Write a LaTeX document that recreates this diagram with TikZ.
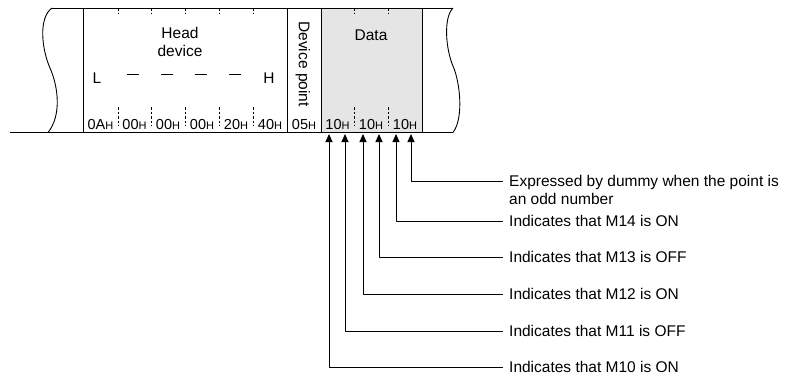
\documentclass[tikz,border=0pt]{standalone}
\usepackage{fontspec}
\setmainfont{Liberation Sans}
\usetikzlibrary{arrows.meta}
\newcommand{\hexval}[1]{#1{\fontsize{11}{11}\selectfont H}}
\begin{document}
\begin{tikzpicture}[x=1pt,y=-1pt,line join=round,
  font=\fontsize{15.5}{18}\selectfont,
  frame/.style={line width=0.9pt},
  tick/.style={line width=0.6pt,dash pattern=on 2.5pt off 2pt},
  val/.style={font=\fontsize{14.5}{15}\selectfont,inner sep=0pt},
  note/.style={anchor=west,inner xsep=6pt,inner ysep=0pt},
  pointer/.style={line width=1pt,-{Triangle[length=8pt,width=7pt]}}]
\useasboundingbox (0,0) rectangle (801,380);
\path
(52,8) coordinate (TL)
(453,8) coordinate (TR)
(10,132.5) coordinate (BL)
(48,132.5) coordinate (BLc)
(453,132.5) coordinate (BR)
;
% data area
\fill[black!10] (321,8) rectangle (422,132.5);
\draw[frame] (TL) -- (TR) (BL) -- (BR);
\draw[frame] (TL) .. controls (38,18) and (42,50) .. (50,68) .. controls (58,86) and (62,115) .. (BLc);
\draw[frame] (TR) .. controls (443,18) and (446,50) .. (453,66) .. controls (460,82) and (464,118) .. (BR);
\foreach \x in {83,287,321,422} \draw[frame] (\x,8) -- (\x,132.5);
\foreach \x in {118,151,185,219,253,354,388} \draw[tick] (\x,8) -- (\x,14) (\x,107) -- (\x,126);
% texts in the frame
\node[align=center,inner sep=0pt] (head) at (180,42) {Head\\device};
\node[inner sep=0pt] (lo) at (97,78) {L};
\node[inner sep=0pt] (hi) at (269,78) {H};
\foreach \x in {133,167,201,235} \draw[line width=0.8pt] (\x-6,74) -- (\x+6,74);
\node[rotate=-90,inner sep=0pt] (devpt) at (303,64) {Device point};
\node[inner sep=0pt] (data) at (371,35) {Data};
\foreach \v/\x [count=\i] in {0A/100.5,00/134.5,00/168,00/202,20/236,40/270,05/304,10/337.5,10/371,10/405}
\node[val] (v\i) at (\x,125) {\hexval{\v}};
% pointers
\foreach \x [count=\i] in {329,345,363,379,396,411}
\coordinate (tip\i) at (\x,134);
\foreach \y/\t [count=\i] in {367/Indicates that M10 is ON,331/Indicates that M11 is OFF,294/Indicates that M12 is ON,257/Indicates that M13 is OFF,221/Indicates that M14 is ON}
{
\node[note] (msg\i) at (503,\y) {\t};
\draw[pointer] (msg\i.west) -| (tip\i);
}
\node[note,anchor=north west,align=left] (msg6) at (503,175.5) {Expressed by dummy when the point is\\an odd number};
\draw[pointer] (msg6.north west) ++(0,5.5) -| (tip6);
\end{tikzpicture}
\end{document}
